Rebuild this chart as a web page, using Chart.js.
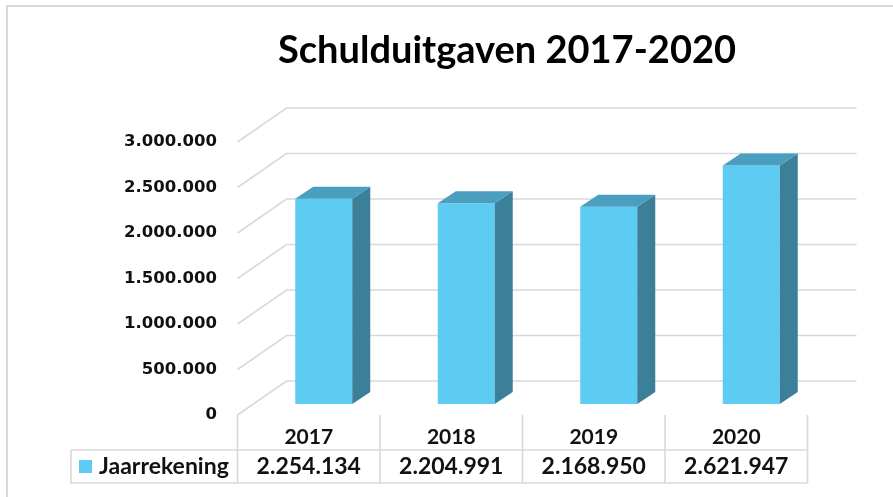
<!DOCTYPE html>
<html>
<head>
<meta charset="utf-8">
<script src="https://cdn.jsdelivr.net/npm/chart.js@4.4.1/dist/chart.umd.min.js"></script>
<style>
  html, body { margin: 0; padding: 0; background: #fff; }
  #wrap { width: 893px; height: 497px; }
</style>
</head>
<body>
<div id="wrap"><canvas id="grafiek" width="893" height="497"></canvas></div>
<script>
  const titel = 'Schulduitgaven 2017-2020';
  const reeksNaam = 'Jaarrekening';
  const jaren = ['2017', '2018', '2019', '2020'];
  const jaarrekening = [2254134, 2204991, 2168950, 2621947];
  const yTicks = [0, 500000, 1000000, 1500000, 2000000, 2500000, 3000000];

  const kleurVoor = '#5ecbf2';
  const kleurZij = '#3b7f99';
  const kleurTop = '#4a9ec0';
  const kleurLijn = '#d9d9d9';

  // diepte-offsets (3D look zoals Excel)
  const voorDx = -15, voorDy = 11;   // voorvlak (labels / tabel)
  const achterDx = 34, achterDy = -23; // achterwand
  const balkDx = 18, balkDy = -12;   // diepte van een balk

  function punten(v) {
    return String(v).replace(/\B(?=(\d{3})+(?!\d))/g, '.');
  }

  const driedee = {
    id: 'driedee',
    beforeDraw(chart) {
      const c = chart.ctx;
      c.save();
      // kader
      c.strokeStyle = kleurLijn;
      c.lineWidth = 2;
      c.beginPath();
      c.moveTo(7, 497);
      c.lineTo(7, 6);
      c.lineTo(893, 6);
      c.stroke();
      // titel
      c.fillStyle = '#000';
      c.font = 'bold 38px Lato';
      c.textAlign = 'center';
      c.textBaseline = 'middle';
      c.fillText(titel, 507, 51);
      c.restore();
    },
    beforeDatasetsDraw(chart) {
      const c = chart.ctx;
      const y = chart.scales.y;
      const { left, right } = chart.chartArea;
      c.save();
      c.strokeStyle = kleurLijn;
      c.lineWidth = 1.6;
      yTicks.forEach(v => {
        const yb = y.getPixelForValue(v);
        c.beginPath();
        c.moveTo(left + voorDx, yb + voorDy);
        c.lineTo(left + achterDx, yb + achterDy);
        c.lineTo(right + achterDx, yb + achterDy);
        c.stroke();
      });
      c.restore();
    },
    afterDatasetsDraw(chart) {
      const c = chart.ctx;
      const meta = chart.getDatasetMeta(0);
      c.save();
      meta.data.forEach(bar => {
        const l = bar.x - bar.width / 2;
        const r = bar.x + bar.width / 2;
        const t = bar.y;
        const b = bar.base;
        // zijkant
        c.fillStyle = kleurZij;
        c.beginPath();
        c.moveTo(r, t);
        c.lineTo(r + balkDx, t + balkDy);
        c.lineTo(r + balkDx, b + balkDy);
        c.lineTo(r, b);
        c.closePath();
        c.fill();
        // bovenkant
        c.fillStyle = kleurTop;
        c.beginPath();
        c.moveTo(l, t);
        c.lineTo(l + balkDx, t + balkDy);
        c.lineTo(r + balkDx, t + balkDy);
        c.lineTo(r, t);
        c.closePath();
        c.fill();
      });
      c.restore();
    },
    afterDraw(chart) {
      const c = chart.ctx;
      const x = chart.scales.x;
      const y = chart.scales.y;
      const kolom = x.getPixelForValue(1) - x.getPixelForValue(0);
      const top = y.getPixelForValue(0) + voorDy;
      const midden = 450;
      const onder = 483;
      const legLinks = 71;
      c.save();
      c.strokeStyle = kleurLijn;
      c.lineWidth = 1.6;
      // verticale lijnen
      for (let i = 0; i <= jaren.length; i++) {
        const xp = x.getPixelForValue(0) - kolom / 2 + i * kolom + voorDx;
        c.beginPath();
        c.moveTo(xp, top);
        c.lineTo(xp, onder);
        c.stroke();
      }
      const rechts = x.getPixelForValue(jaren.length - 1) + kolom / 2 + voorDx;
      c.beginPath();
      c.moveTo(legLinks, midden);
      c.lineTo(rechts, midden);
      c.moveTo(legLinks, midden);
      c.lineTo(legLinks, onder);
      c.lineTo(rechts, onder);
      c.stroke();

      c.fillStyle = '#111';
      c.textAlign = 'center';
      c.textBaseline = 'middle';
      c.font = 'bold 21px Lato';
      jaren.forEach((j, i) => {
        c.fillText(j, x.getPixelForValue(i) + voorDx, 437);
      });
      c.font = 'bold 23px Lato';
      jaarrekening.forEach((v, i) => {
        c.fillText(punten(v), x.getPixelForValue(i) + voorDx, 467);
      });
      // legenda
      c.fillStyle = kleurVoor;
      c.fillRect(79, 460, 13, 13);
      c.fillStyle = '#111';
      c.textAlign = 'left';
      c.font = 'bold 23px Lato';
      c.fillText(reeksNaam, 99, 467);
      c.restore();
    }
  };

  const grafiek = new Chart(document.getElementById('grafiek'), {
    type: 'bar',
    data: {
      labels: jaren,
      datasets: [{
        label: reeksNaam,
        data: jaarrekening,
        backgroundColor: kleurVoor,
        borderWidth: 0,
        categoryPercentage: 1,
        barPercentage: 0.4
      }]
    },
    options: {
      responsive: false,
      animation: false,
      devicePixelRatio: 1,
      layout: {
        padding: { left: 8, top: 131, right: 70.5, bottom: 93 }
      },
      plugins: {
        legend: { display: false },
        title: { display: false },
        tooltip: { enabled: false }
      },
      scales: {
        x: {
          display: false
        },
        y: {
          min: 0,
          max: 3000000,
          afterFit(scale) { scale.width = 244.5; },
          afterBuildTicks(scale) { scale.ticks = yTicks.map(v => ({ value: v })); },
          grid: { display: false, drawTicks: false },
          border: { display: false },
          ticks: {
            padding: 35.5,
            labelOffset: 11,
            color: '#111',
            font: { family: 'DejaVu Sans', weight: 'bold', size: 16.5 },
            callback: v => punten(v)
          }
        }
      }
    },
    plugins: [driedee]
  });
</script>
</body>
</html>
